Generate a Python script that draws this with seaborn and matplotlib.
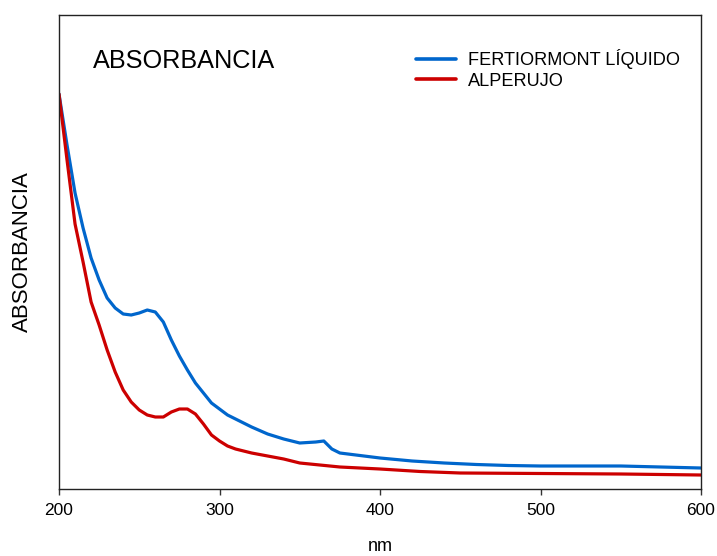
import matplotlib
matplotlib.use("Agg")
import matplotlib.pyplot as plt
import seaborn as sns
import pandas as pd

# Wavelengths (nm) and absorbance values (arbitrary units)
nm_fert = [200, 205, 210, 215, 220, 225, 230, 235, 240, 245, 250, 255, 260, 265,
           270, 275, 280, 285, 290, 295, 300, 305, 310, 320, 330, 340, 350, 360,
           365, 370, 375, 380, 390, 400, 420, 440, 460, 480, 500, 550, 600]
abs_fert = [3.95, 3.44, 2.96, 2.61, 2.31, 2.09, 1.91, 1.81, 1.75, 1.74, 1.76, 1.79,
            1.77, 1.67, 1.49, 1.33, 1.19, 1.06, 0.96, 0.86, 0.80, 0.74, 0.70, 0.62,
            0.55, 0.50, 0.46, 0.47, 0.48, 0.40, 0.36, 0.35, 0.33, 0.31, 0.28, 0.26,
            0.245, 0.235, 0.23, 0.23, 0.21]

nm_alp = [200, 205, 210, 215, 220, 225, 230, 235, 240, 245, 250, 255, 260, 265,
          270, 275, 280, 285, 290, 295, 300, 305, 310, 320, 330, 340, 350, 375,
          400, 425, 450, 500, 550, 600]
abs_alp = [3.95, 3.29, 2.65, 2.27, 1.87, 1.64, 1.39, 1.17, 0.99, 0.87, 0.79, 0.74,
           0.72, 0.72, 0.77, 0.80, 0.80, 0.75, 0.65, 0.54, 0.48, 0.43, 0.40, 0.36,
           0.33, 0.30, 0.26, 0.22, 0.20, 0.175, 0.16, 0.155, 0.15, 0.14]

series_names = ["FERTIORMONT LÍQUIDO", "ALPERUJO"]
series_colors = ["#0066CC", "#CC0000"]
x_ticks = [200, 300, 400, 500, 600]

df = pd.concat([
    pd.DataFrame({"nm": nm_fert, "abs": abs_fert, "serie": series_names[0]}),
    pd.DataFrame({"nm": nm_alp, "abs": abs_alp, "serie": series_names[1]}),
])

sns.set_theme(style="ticks")
plt.rcParams["font.family"] = ["Liberation Sans", "DejaVu Sans"]
plt.rcParams["text.color"] = "black"

fig = plt.figure(figsize=(7.17, 5.56), dpi=100)
ax = fig.add_axes([59 / 717, 1 - 489 / 556, 642 / 717, 474 / 556])

sns.lineplot(data=df, x="nm", y="abs", hue="serie", hue_order=series_names,
             palette=series_colors, linewidth=2.3, ax=ax, sort=True,
             estimator=None)

ax.set_xlim(200, 600)
ax.set_ylim(0, 4.74)
ax.set_xticks(x_ticks)
ax.set_xticklabels([str(t) for t in x_ticks], fontsize=12.5, color="black")
ax.set_yticks([])
ax.tick_params(axis="x", direction="out", length=4.3, width=1, pad=6,
               color="#333333")
for s in ax.spines.values():
    s.set_visible(True)
    s.set_color("#222222")
    s.set_linewidth(1.0)

ax.set_xlabel("nm", fontsize=13, color="black", labelpad=14)
ax.set_ylabel("")
fig.text(22 / 717, 1 - 252 / 556, "ABSORBANCIA", rotation=90, ha="center",
         va="center", fontsize=16, color="black")

ax.text((93 - 59) / 642, (489 - 61) / 474, "ABSORBANCIA", transform=ax.transAxes,
        fontsize=18.2, ha="left", va="center", color="black")

leg = ax.legend(loc="upper left", bbox_to_anchor=((416 - 59) / 642, (489 - 49) / 474),
                frameon=False, fontsize=13.1, handlelength=2.2,
                handletextpad=0.65, borderpad=0, labelspacing=0.2,
                borderaxespad=0)
for line in leg.get_lines():
    line.set_linewidth(2.6)
for t in leg.get_texts():
    t.set_color("black")

fig.savefig("out.png", dpi=100)
